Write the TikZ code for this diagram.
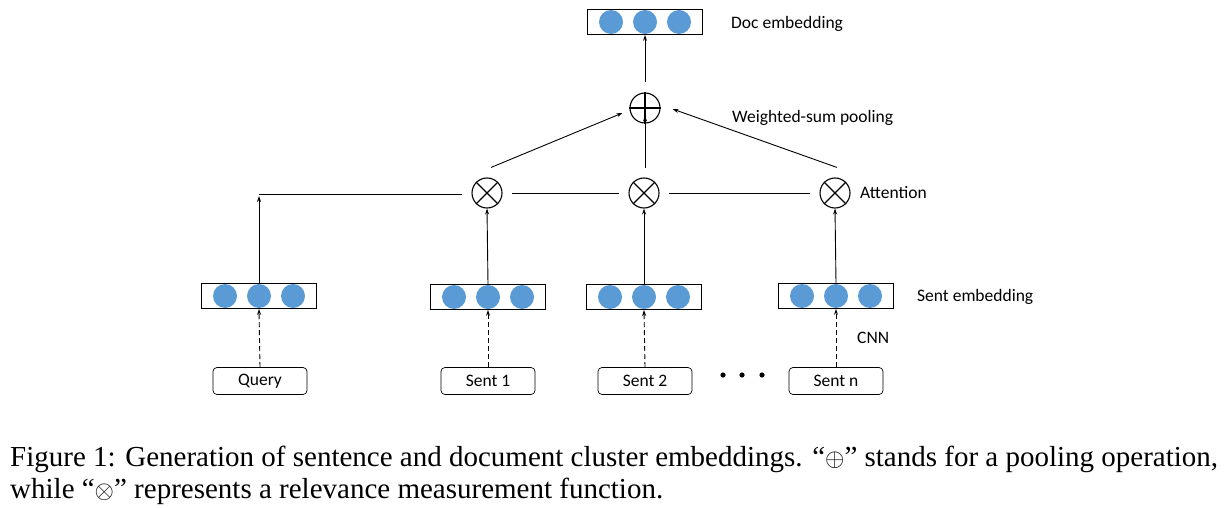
\documentclass[tikz,border=0pt]{standalone}
\usepackage{fontspec}
\setmainfont{Liberation Serif}
\newfontfamily\calfont{Carlito}
\usetikzlibrary{arrows.meta,calc}
\definecolor{dotblue}{HTML}{5B9BD5}
\begin{document}
\begin{tikzpicture}[x=1pt,y=-1pt,
  emb/.style={draw, line width=0.8pt, minimum width=115pt, minimum height=25pt, inner sep=0pt},
  dot/.style={circle, fill=dotblue, minimum size=24pt, inner sep=0pt},
  op/.style={circle, draw, line width=1.1pt, minimum size=30pt, inner sep=0pt},
  inp/.style={draw, line width=0.7pt, rounded corners=4pt, minimum width=94pt, minimum height=27pt, inner sep=0pt, font=\calfont\fontsize{17.5}{20}\selectfont},
  lbl/.style={anchor=west, inner sep=0pt, font=\calfont\fontsize{17.5}{20}\selectfont},
  arr/.style={-{Stealth[length=6pt,width=4pt]}, line width=0.9pt},
  darr/.style={arr, dash pattern=on 5pt off 3pt},
  ln/.style={line width=0.9pt},
  capt/.style={anchor=base west, inner sep=0pt, font=\fontsize{29}{32}\selectfont}
]
\useasboundingbox (0,0) rectangle (1226,508);

% embeddings
\node[emb] (doc) at (645,22) {};
\node[emb] (qe) at (259,296) {};
\node[emb] (e1) at (488,297) {};
\node[emb] (e2) at (644,297) {};
\node[emb] (en) at (836,296) {};
\foreach \b in {doc,qe,e1,e2,en}{
  \node[dot] (\b-l) at ($(\b.center)+(-34,0)$) {};
  \node[dot] (\b-m) at (\b.center) {};
  \node[dot] (\b-r) at ($(\b.center)+(34,0)$) {};
}

% operators
\node[op] (p) at (645,108) {};
\draw[line width=1.1pt] (p.north) -- (p.south) (p.west) -- (p.east);
\node[op] (a1) at (487,193) {};
\node[op] (a2) at (644,193) {};
\node[op] (a3) at (835,193) {};
\foreach \a in {a1,a2,a3}{
  \draw[line width=1.1pt] (\a.north west) -- (\a.south east) (\a.north east) -- (\a.south west);
}

% inputs
\node[inp] (q) at (260,381) {Query};
\node[inp] (s1) at (488,381) {Sent 1};
\node[inp] (s2) at (645,381) {Sent 2};
\node[inp] (sn) at (836,381) {Sent n};
\foreach \x [count=\i] in {723,742,762}{
  \fill (\x,375) circle (2.6pt) coordinate (dot\i);
}

% labels
\node[lbl] (ldoc) at (731,24) {Doc embedding};
\node[lbl] (lws) at (732,118) {Weighted-sum pooling};
\node[lbl] (latt) at (860,193) {Attention};
\node[lbl] (lse) at (917,297) {Sent embedding};
\node[lbl] (lcnn) at (857,338) {CNN};

% dashed input arrows
\foreach \s/\e in {q/qe,s1/e1,s2/e2,sn/en}{
  \draw[darr] (\s.north) -- (\e.south);
}
% embedding to attention
\coordinate (qc) at (259,196);
\draw[arr] (qe.north) -- (qc);
\draw[ln] (259,194) -- ($(a1.west)+(-9,1)$);
\draw[ln] ($(a1.east)+(9,0)$) -- ($(a2.west)+(-9,0)$);
\draw[ln] ($(a2.east)+(9,0)$) -- ($(a3.west)+(-9,0)$);
\foreach \e/\a in {e1/a1,e2/a2,en/a3}{
  \draw[arr] (\e.north) -- (\a.south);
}
% attention to pooling
\draw[arr] ($(a1.north)+(4,-10)$) -- ($(p.west)+(-7,5)$);
\draw[arr] ($(a2.north)+(1,-9)$) -- ($(p.south)+(0,-8)$);
\draw[arr] ($(a3.north)+(2,-10)$) -- ($(p.east)+(12,1)$);
\draw[arr] ($(p.north)+(0,-10)$) -- (doc.south);

% caption
\node[capt] (c1) at (10,466) {Figure 1: Generation of sentence and document cluster embeddings. ``$\oplus$'' stands for a pooling operation,};
\node[capt] (c2) at (10,498) {while ``$\otimes$'' represents a relevance measurement function.};
\end{tikzpicture}
\end{document}
